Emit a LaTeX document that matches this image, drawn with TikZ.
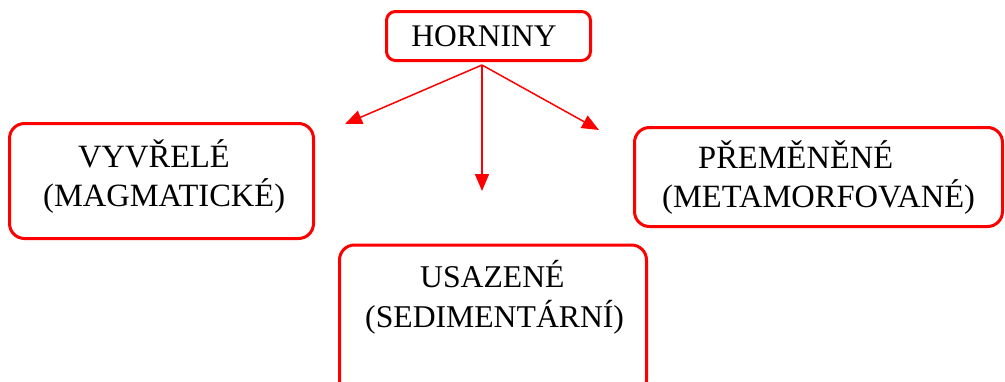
\documentclass[tikz,border=0pt]{standalone}
\usepackage{fontspec}
\setmainfont{Liberation Serif}
\usetikzlibrary{arrows.meta}

\begin{document}
\begin{tikzpicture}[
		x=1pt, y=-1pt,
		rockbox/.style={draw=red, line width=3pt, rounded corners=15pt, inner sep=0pt},
		rocktext/.style={font=\fontsize{32.5}{39}\selectfont, align=left, inner sep=0pt, anchor=base west},
		branch/.style={draw=red, line width=1.5pt, -{Triangle[length=17pt, width=14pt]}},
	]
		\useasboundingbox (0,0) rectangle (1005,381);
	
		\node[rockbox, rounded corners=9pt, minimum width=204pt, minimum height=49pt] (horn) at (488.5,36) {};
		\node[rocktext, font=\fontsize{31.5}{39}\selectfont, anchor=base] (horntxt) at (484,46) {HORNINY};
		
		\node[rockbox, minimum width=304pt, minimum height=115pt] (magm) at (161.5,181) {};
		\node[rocktext] (magmtxt) at (43,206) {\hspace*{35pt}VYVŘELÉ\\(MAGMATICKÉ)};
		
		\node[rockbox, minimum width=368pt, minimum height=99pt] (meta) at (818.5,177) {};
		\node[rocktext] (metatxt) at (662,207) {\hspace*{36pt}PŘEMĚNĚNÉ\\(METAMORFOVANÉ)};
		
		\node[rockbox, minimum width=307pt, minimum height=150pt] (sed) at (493,320) {};
		\node[rocktext, font=\fontsize{31.7}{40}\selectfont] (sedtxt) at (365,327) {\hspace*{55pt}USAZENÉ\\(SEDIMENTÁRNÍ)};
		
		\coordinate (fork) at (482,65);
		\coordinate (tomagm) at (345,124);
		\coordinate (tosed) at (482,191);
		\coordinate (tometa) at (599,130);
		
		\draw[branch] (fork) -- (tomagm);
		\draw[branch] (fork) -- (tosed);
		\draw[branch] (fork) -- (tometa);
	\end{tikzpicture}
\end{document}
